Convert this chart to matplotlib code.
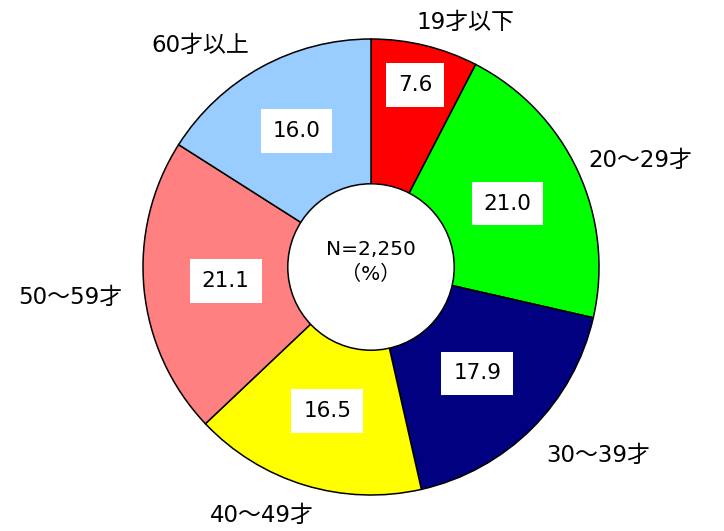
import numpy as np
import matplotlib
matplotlib.use('Agg')
import matplotlib.pyplot as plt
from matplotlib.patches import Circle

plt.rcParams['font.family'] = ['DejaVu Sans', 'Noto Sans CJK JP']

# ---- data ----
categories = ['19才以下', '20～29才', '30～39才', '40～49才', '50～59才', '60才以上']
values = [7.6, 21.0, 17.9, 16.5, 21.1, 16.0]
colors = ['#FF0000', '#00FF00', '#000080', '#FFFF00', '#FF8080', '#99CCFF']
center_text = 'N=2,250\n（%）'

# pixel geometry of the reference (724x531)
W, H = 724, 531
CX, CY, R = 371, 267, 228

fig = plt.figure(figsize=(W / 100, H / 100), dpi=100)
ax = fig.add_axes([(CX - R) / W, (H - CY - R) / H, 2 * R / W, 2 * R / H])

wedges, _ = ax.pie(values, colors=colors, startangle=90, counterclock=False, radius=1,
                   wedgeprops=dict(edgecolor='black', linewidth=1.1))
ax.set_xlim(-1, 1); ax.set_ylim(-1, 1); ax.set_aspect('equal'); ax.axis('off')
for w in wedges:
    w.set_clip_on(False)

# centre hole
ax.add_patch(Circle((0, 0), 0.365, facecolor='white', edgecolor='black', lw=1.1, zorder=5))
ax.text(0, 0.02, center_text, ha='center', va='center', fontsize=14.5, linespacing=1.4, zorder=6)

# value boxes (radial distance in units of outer radius)
val_r = [0.82, 0.66, 0.66, 0.66, 0.64, 0.68]
cum = np.cumsum([0] + values[:-1])
for v, c, rr in zip(values, cum, val_r):
    ang = np.deg2rad(90 - (c + v / 2) / sum(values) * 360)
    ax.text(rr * np.cos(ang), rr * np.sin(ang), '%.1f' % v, ha='center', va='center',
            fontsize=15.5, zorder=7,
            bbox=dict(boxstyle='square,pad=0.55', facecolor='white', edgecolor='none'))

# category labels (reference pixel positions)
lab_px = [(465, 22), (640, 160), (598, 455), (262, 515), (70, 297), (200, 45)]
for t, (px, py) in zip(categories, lab_px):
    ax.text((px - CX) / R, (CY - py) / R, t, ha='center', va='center', fontsize=16.5,
            clip_on=False)

fig.savefig('out.png', dpi=100, facecolor='white')
